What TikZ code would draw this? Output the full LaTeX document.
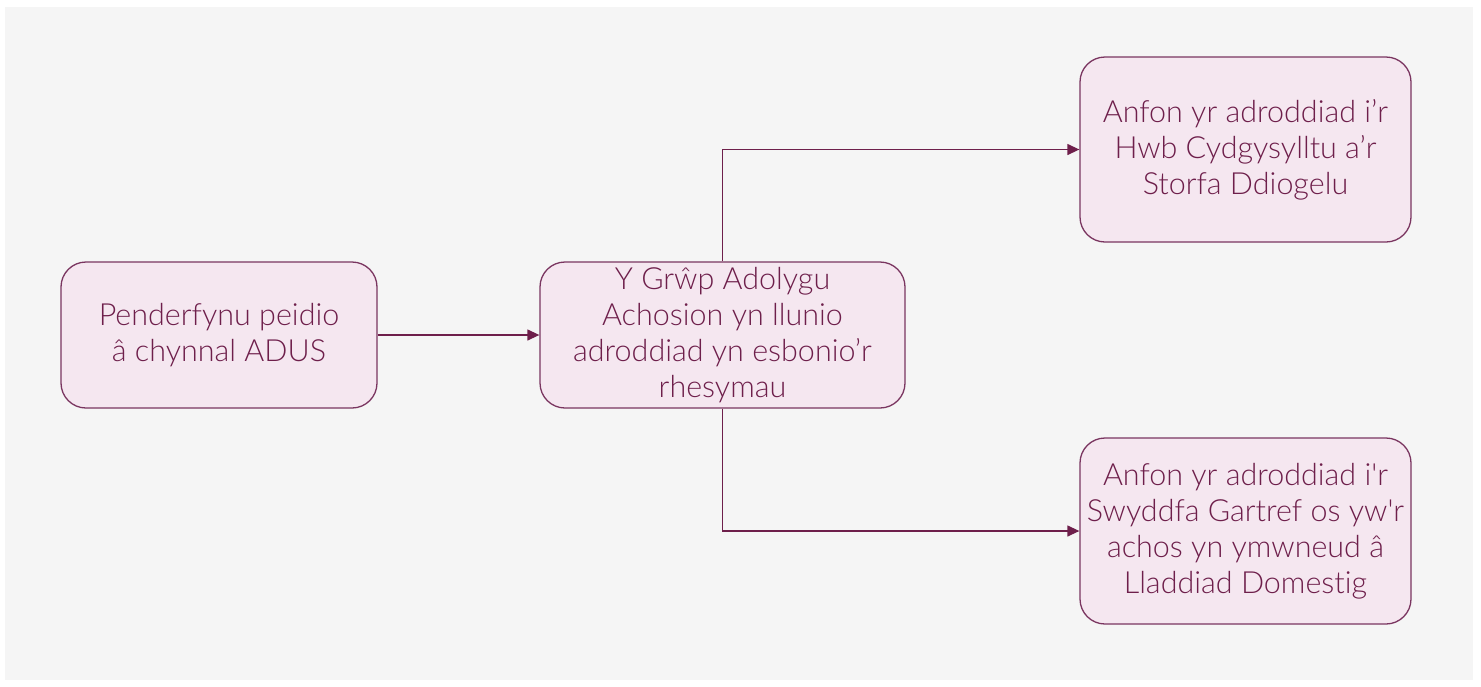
\documentclass[tikz,border=0pt]{standalone}
\usepackage{fontspec}
\newfontfamily\boxfont{Lato Light}[Ligatures={TeXOff,NoCommon}]
\usetikzlibrary{arrows.meta}
\definecolor{bgray}{HTML}{F5F5F5}
\definecolor{plum}{HTML}{6E1F4B}
\definecolor{plumline}{HTML}{7A3560}
\definecolor{pinkfill}{HTML}{F5E7F0}
\tikzset{
  stepbox/.style={draw=plumline, fill=pinkfill, line width=1.3pt, rounded corners=25pt,
    align=center, text=plum, inner sep=0pt,
    font=\boxfont\fontsize{30.5}{36}\selectfont},
  conn/.style={draw=plum, line width=1.3pt, -{Triangle[length=12pt,width=11pt]}}
}
\begin{document}
\begin{tikzpicture}[x=1pt,y=-1pt]
\useasboundingbox (0,0) rectangle (1481,686);
\fill[white] (0,0) rectangle (1481,686);
\fill[bgray] (5,7) rectangle (1473,680);
\node[stepbox, minimum width=316pt, minimum height=146pt] (a) at (219,335) {Penderfynu peidio\\â chynnal ADUS};
\node[stepbox, minimum width=365pt, minimum height=146pt] (b) at (722.5,335) {Y Grŵp Adolygu\\Achosion yn llunio\\adroddiad yn esbonio’r\\rhesymau};
\node[stepbox, minimum width=331pt, minimum height=185pt] (c) at (1245.5,149.5) {Anfon yr adroddiad i’r\\Hwb Cydgysylltu a’r\\Storfa Ddiogelu\vphantom{p}};
\node[stepbox, minimum width=331pt, minimum height=186pt] (d) at (1245.5,531) {Anfon yr adroddiad i'r\\Swyddfa Gartref os yw'r\\achos yn ymwneud â\\Lladdiad Domestig};
\draw[conn] (a.east) -- (b.west);
\draw[conn] (b.north) |- (c.west);
\draw[conn] (b.south) |- (d.west);
\end{tikzpicture}
\end{document}
